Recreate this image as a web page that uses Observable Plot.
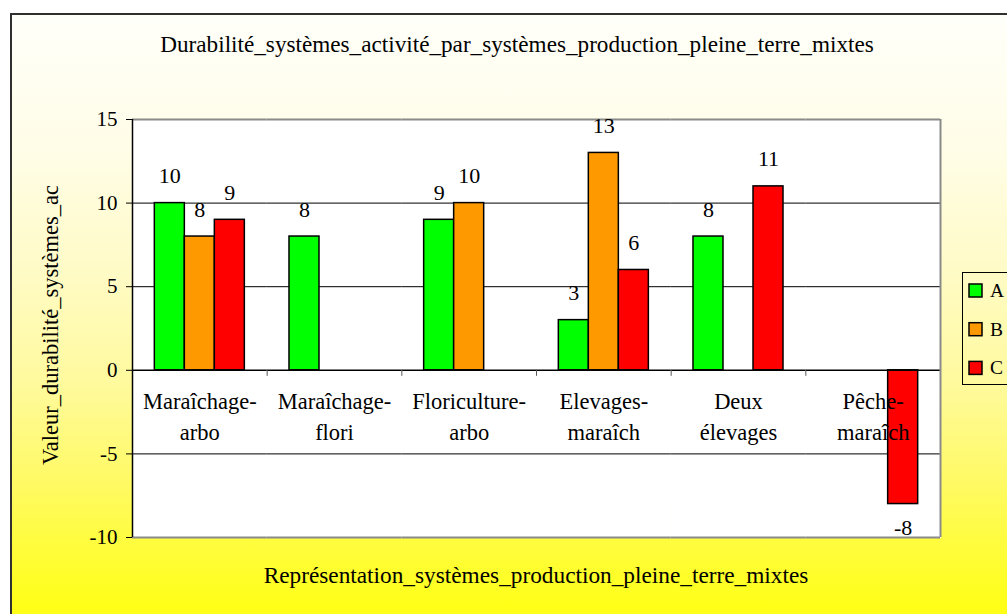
<!DOCTYPE html>
<html>
<head>
<meta charset="utf-8">
<script src="https://cdn.jsdelivr.net/npm/d3@7"></script>
<script src="https://cdn.jsdelivr.net/npm/@observablehq/plot@0.6"></script>
<style>
  html, body { margin: 0; padding: 0; background: #ffffff; }
  #chart { position: relative; width: 1007px; height: 614px; overflow: hidden; font-family: "Liberation Serif", "Times New Roman", serif; }
  #bg { position: absolute; left: 10px; top: 13px; width: 1100px; height: 700px; box-sizing: border-box;
        border: 2px solid #303030;
        background: linear-gradient(to bottom, #fffffa 0px, #fffde6 140px, #fffbc8 250px, #fffa9c 370px, #fffa62 470px, #ffff18 590px, #ffff10 700px); }
  #plot, #overlay { position: absolute; left: 0; top: 0; }
</style>
</head>
<body>
<div id="chart">
  <div id="bg"></div>
  <div id="plot"></div>
  <svg id="overlay" width="1007" height="614"></svg>
</div>
<script>
// ---- data ----
const categories = ["Maraîchage-arbo", "Maraîchage-flori", "Floriculture-arbo", "Elevages-maraîch", "Deux élevages", "Pêche-maraîch"];
const categoryLabels = ["Maraîchage-\narbo", "Maraîchage-\nflori", "Floriculture-\narbo", "Elevages-\nmaraîch", "Deux\nélevages", "Pêche-\nmaraîch"];
const series = ["A", "B", "C"];
const seriesColors = ["#00ff00", "#ff9900", "#ff0000"];
const valuesA = [10, 8, 9, 3, 8, null];
const valuesB = [8, null, 10, 13, null, null];
const valuesC = [9, null, null, 6, 11, -8];
const yTicks = [-10, -5, 0, 5, 10, 15];
const gridTicks = [-5, 5, 10];
const title = "Durabilité_systèmes_activité_par_systèmes_production_pleine_terre_mixtes";
const xTitle = "Représentation_systèmes_production_pleine_terre_mixtes";
const yTitle = "Valeur_durabilité_systèmes_ac";

// ---- table ----
const seriesValues = [valuesA, valuesB, valuesC];
const rows = [];
categories.forEach((cat, i) => {
  series.forEach((s, j) => {
    const v = seriesValues[j][i];
    if (v != null) rows.push({cat, series: s, value: v});
  });
});
const catRows = categories.map((cat, i) => ({cat, label: categoryLabels[i]}));

const W = 1007, H = 614;
const mL = 132, mR = 67, mT = 119, mB = 77;
const step = (W - mL - mR) / categories.length;

const chart = Plot.plot({
  width: W, height: H,
  marginLeft: mL, marginRight: mR, marginTop: mT, marginBottom: mB,
  style: {background: "transparent", fontFamily: "'Liberation Serif', 'Times New Roman', serif", fontSize: "20px", color: "black", overflow: "visible"},
  fx: {domain: categories, padding: 0, round: false, axis: null},
  x: {domain: series, paddingInner: 0, paddingOuter: 0.744, round: false, axis: null},
  y: {domain: [-10, 15], axis: null},
  color: {domain: series, range: seriesColors},
  marks: [
    Plot.frame({fill: "white", stroke: "white", strokeWidth: 1}),
    Plot.ruleY(gridTicks, {stroke: "black", strokeWidth: 1}),
    Plot.ruleY([15, -10], {stroke: "#8a8a8a", strokeWidth: 2}),
    Plot.barY(rows, {fx: "cat", x: "series", y: "value", fill: "series", stroke: "black", strokeWidth: 1.5}),
    Plot.ruleY([0], {stroke: "black", strokeWidth: 1.5}),
    Plot.ruleX([categories[0]], {fx: d => d, x: null, dx: -step / 2, stroke: "black", strokeWidth: 1.5}),
    Plot.ruleX([categories[categories.length - 1]], {fx: d => d, x: null, dx: step / 2, stroke: "#8a8a8a", strokeWidth: 2}),
    Plot.ruleX(categories.slice(1), {fx: d => d, x: null, dx: -step / 2, y1: 0, y2: 0, insetBottom: -6, stroke: "#555", strokeWidth: 1}),
    Plot.axisY({ticks: yTicks, tickSize: 6, tickPadding: 9, tickFormat: d => String(d), label: null, fontSize: 21, stroke: "black"}),
    Plot.text(catRows, {fx: "cat", y: 0, text: "label", lineAnchor: "top", dy: 17, lineHeight: 1.36, fontSize: 22.5, fill: "black"}),
    Plot.text(rows.filter(d => d.value >= 0), {fx: "cat", x: "series", y: "value", text: d => String(d.value), dy: -27, fontSize: 22, fill: "black"}),
    Plot.text(rows.filter(d => d.value < 0), {fx: "cat", x: "series", y: "value", text: d => String(d.value), dy: 24, fontSize: 22, fill: "black"})
  ]
});
document.getElementById("plot").appendChild(chart);

// ---- overlay: titles and legend ----
const ov = d3.select("#overlay").style("font-family", "'Liberation Serif', 'Times New Roman', serif");
ov.append("text").attr("x", 517).attr("y", 52).attr("text-anchor", "middle").attr("font-size", 23.2).text(title);
ov.append("text").attr("x", 536).attr("y", 583).attr("text-anchor", "middle").attr("font-size", 23.3).text(xTitle);
ov.append("defs").append("clipPath").attr("id", "yclip").append("rect").attr("x", 0).attr("y", 186).attr("width", 120).attr("height", 300);
ov.append("g").attr("clip-path", "url(#yclip)")
  .append("text").attr("transform", "translate(58,465) rotate(-90)").attr("font-size", 22.5).text(yTitle);

const lg = ov.append("g");
lg.append("rect").attr("x", 962.5).attr("y", 272.5).attr("width", 100).attr("height", 112).attr("fill", "none").attr("stroke", "black").attr("stroke-width", 1);
series.forEach((s, i) => {
  const cy = 290.5 + i * 38.7;
  lg.append("rect").attr("x", 969).attr("y", cy - 6.5).attr("width", 13).attr("height", 13)
    .attr("fill", seriesColors[i]).attr("stroke", "black").attr("stroke-width", 1.5);
  lg.append("text").attr("x", 990).attr("y", cy + 6.5).attr("font-size", 19.5).text(s);
});
</script>
</body>
</html>
